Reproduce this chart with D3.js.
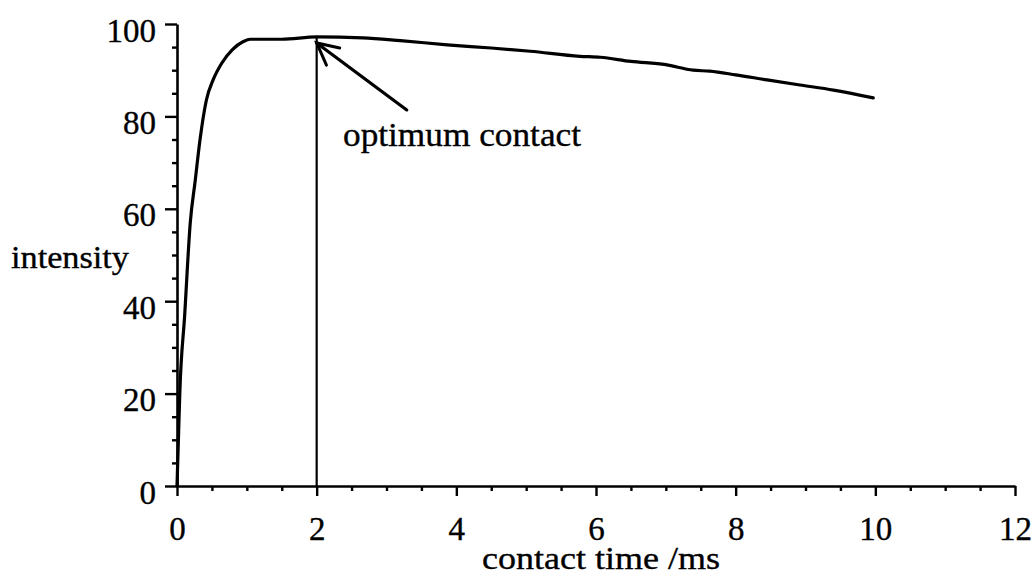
<!DOCTYPE html>
<html>
<head>
<meta charset="utf-8">
<script src="https://cdn.jsdelivr.net/npm/d3@7"></script>
<style>
  html, body { margin: 0; padding: 0; background: #fff; }
  svg { display: block; }
  text { font-family: "Liberation Serif", "DejaVu Serif", serif; fill: #000; stroke: #000; stroke-width: 0.35px; }
</style>
</head>
<body>
<svg id="chart" width="1033" height="577"></svg>
<script>
// ---- data ----
const contactTime = [0, 0.02, 0.04, 0.11, 0.19, 0.26, 0.33, 0.42, 0.52, 0.64, 0.79, 0.95, 1.05, 1.5, 2.0, 2.66, 3.2, 3.87, 4.5, 5.06, 5.77, 6.06, 6.5, 7.0, 7.39, 7.63, 8.0, 8.45, 8.92, 9.4, 9.97];
const intensity   = [0, 10, 20, 37, 57, 66, 75, 83.5, 88, 91.5, 94.4, 96.2, 96.7, 96.7, 97.2, 97.0, 96.4, 95.5, 94.8, 94.1, 93.0, 92.8, 91.9, 91.2, 90.0, 89.8, 89.0, 87.9, 86.8, 85.7, 84.0];
const xTicks = [0, 2, 4, 6, 8, 10, 12];
const yTicks = [0, 20, 40, 60, 80, 100];
const optimumTime = 2.0;
const optimumIntensity = 97.2;
const annotationText = "optimum contact";
const arrowTail = [3.29, 81.4];
const arrowTip = [2.0, 95.9];
const arrowWing1 = [2.33, 94.8];
const arrowWing2 = [2.14, 91.1];

// ---- layout ----
const svg = d3.select("#chart");
const x = d3.scaleLinear().domain([0, 12]).range([177, 1015]);
const y = d3.scaleLinear().domain([0, 100]).range([486, 24]);
const FS = 33;

// minor ticks
const xMinor = d3.range(0, 12.001, 0.5).filter(v => Math.abs(v % 2) > 1e-9);
const yMinor = d3.range(0, 100.001, 5).filter(v => v % 20 !== 0);

// y axis
const gy = svg.append("g").attr("transform", `translate(${x(0)},0)`);
gy.call(d3.axisLeft(y).tickValues(yTicks).tickSize(12).tickSizeOuter(0).tickPadding(22));
gy.append("g").call(d3.axisLeft(y).tickValues(yMinor).tickSize(5).tickSizeOuter(0).tickFormat(""))
  .select(".domain").remove();
gy.selectAll("text").attr("x", -21).attr("y", 17).attr("dy", 0)
  .style("font-size", FS + "px").style("font-family", "Liberation Serif");

// x axis
const gx = svg.append("g").attr("transform", `translate(0,${y(0)})`);
gx.call(d3.axisBottom(x).tickValues(xTicks).tickSize(10).tickSizeOuter(0));
gx.append("g").call(d3.axisBottom(x).tickValues(xMinor).tickSize(5).tickSizeOuter(0).tickFormat(""))
  .select(".domain").remove();
gx.selectAll("text").attr("y", 54).attr("dy", 0)
  .style("font-size", FS + "px").style("font-family", "Liberation Serif");

svg.selectAll(".domain").attr("stroke", "#000").attr("stroke-width", 2.6);
svg.selectAll(".tick line").attr("stroke", "#000").attr("stroke-width", 2.4);

// vertical optimum line
svg.append("line")
  .attr("x1", x(optimumTime)).attr("x2", x(optimumTime))
  .attr("y1", y(0)).attr("y2", y(optimumIntensity))
  .attr("stroke", "#000").attr("stroke-width", 2.2);

// curve
const pts = contactTime.map((t, i) => [t, intensity[i]]);
svg.append("path")
  .datum(pts)
  .attr("fill", "none").attr("stroke", "#000").attr("stroke-width", 3.2)
  .attr("stroke-linejoin", "round").attr("stroke-linecap", "round")
  .attr("d", d3.line().x(d => x(d[0])).y(d => y(d[1])).curve(d3.curveMonotoneX));

// arrow
const arrowLine = d3.line().x(d => x(d[0])).y(d => y(d[1]));
svg.append("path").attr("d", arrowLine([arrowTail, arrowTip]))
  .attr("stroke", "#000").attr("stroke-width", 3.2).attr("fill", "none").attr("stroke-linecap", "round");
svg.append("path").attr("d", arrowLine([arrowWing1, arrowTip, arrowWing2]))
  .attr("stroke", "#000").attr("stroke-width", 3).attr("fill", "none").attr("stroke-linecap", "round");

// texts
svg.append("text").attr("x", 343).attr("y", 146)
  .style("font-size", FS + "px").attr("textLength", 238).attr("lengthAdjust", "spacingAndGlyphs")
  .text(annotationText);
svg.append("text").attr("x", 11).attr("y", 268)
  .style("font-size", "31px").attr("textLength", 118).attr("lengthAdjust", "spacingAndGlyphs")
  .text("intensity");
svg.append("text").attr("x", 482).attr("y", 569)
  .style("font-size", "32px").attr("textLength", 238).attr("lengthAdjust", "spacingAndGlyphs")
  .text("contact time /ms");
</script>
</body>
</html>
